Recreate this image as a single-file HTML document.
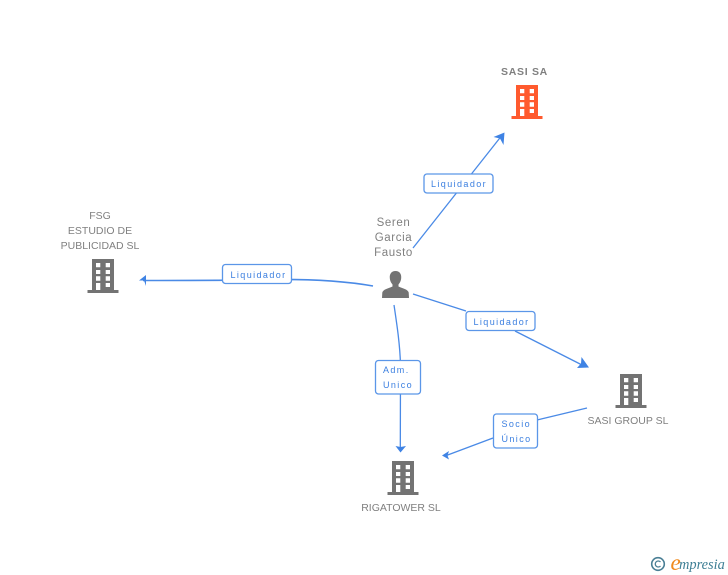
<!DOCTYPE html>
<html>
<head>
<meta charset="utf-8">
<style>
html,body{margin:0;padding:0;background:#fff;}
body{width:728px;height:575px;overflow:hidden;position:relative;}
svg{position:absolute;left:0;top:0;}
text{font-family:"Liberation Sans",sans-serif;}
.n{font-size:10.500px;fill:#808080;text-anchor:middle;}
.l{font-size:9px;fill:#3b7fe0;letter-spacing:1.400px;}
.b{fill:#fff;stroke:#5b96e8;stroke-width:1.300;}
.c{fill:none;stroke:#4a8ae6;stroke-width:1.300;}
.a{fill:#3f83e4;}
</style>
</head>
<body>
<svg width="728" height="575" viewBox="0 0 728 575">
<defs>
<g id="bld">
<path fill-rule="evenodd" d="M0 0H22V31H26.500V34H-4.500V31H0Z M4 4V8.300H8.300V4Z M13.700 4V8.300H18V4Z M4 11V15H8.300V11Z M13.700 11V15H18V11Z M4 17.300V21.700H8.300V17.300Z M13.700 17.300V21.700H18V17.300Z M13.700 24V28H18V24Z M4 24V31H8.300V24Z"/>
</g>
</defs>

<path class="c" d="M413 248L503 134"/>
<path class="a" d="M504.500 132.500L503.500 145L500 138.500L493.500 137Z"/>

<path class="c" style="stroke-width:1.600" d="M373 286C345 281 310 279 270 279.500C220 280.500 180 280.500 143 280.500"/>
<path class="a" d="M139 280.500L146 275V286L144 280.500Z"/>

<path class="c" d="M413 294L466 311"/>
<path class="c" d="M515 331L586 367"/>
<path class="a" d="M589 367.500L577 368L581 363.500L581.500 357Z"/>

<path class="c" d="M394 305C397 325 400 345 400.500 365L400.300 450"/>
<path class="a" d="M400.500 452.500L395.500 446L400.500 447L406 446Z"/>

<path class="c" d="M587 408L537 420"/>
<path class="c" d="M493 438L445 456"/>
<path class="a" d="M442 455.500L449 451L447.500 455.500L449 459.500Z"/>

<rect class="b" x="424" y="174" width="69" height="19" rx="3"/>
<text class="l" x="431" y="187">Liquidador</text>
<rect class="b" x="222.500" y="264.500" width="69" height="19" rx="3"/>
<text class="l" x="230.500" y="278">Liquidador</text>
<rect class="b" x="466" y="311.500" width="69" height="19" rx="3"/>
<text class="l" x="473.500" y="325">Liquidador</text>
<rect class="b" x="375.500" y="360.500" width="45" height="33.500" rx="3"/>
<text class="l" x="383" y="373">Adm.</text>
<text class="l" x="383" y="388">Unico</text>
<rect class="b" x="493.500" y="414" width="44" height="34" rx="3"/>
<text class="l" x="501.500" y="427">Socio</text>
<text class="l" x="501.500" y="442">Único</text>

<use href="#bld" x="516" y="85" fill="#ff5a2e"/>
<use href="#bld" x="92" y="259" fill="#737373"/>
<use href="#bld" x="392" y="461" fill="#737373"/>
<use href="#bld" x="620" y="374" fill="#737373"/>

<path fill="#737373" d="M395.500 271C391 271 389.500 274.500 389.800 278C390 281 391.300 283 392.500 284.500V286.500C388 288.500 383 289.500 382.300 292.500L382 298H409L408.700 292.500C408 289.500 403 288.500 398.500 286.500V284.500C399.700 283 401 281 401.200 278C401.500 274.500 400 271 395.500 271Z"/>

<text x="524.500" y="75" text-anchor="middle" font-size="10.500" font-weight="bold" fill="#808080" letter-spacing=".7">SASI SA</text>
<text class="n" x="100" y="219">FSG</text>
<text class="n" x="100" y="234">ESTUDIO DE</text>
<text class="n" x="100" y="249">PUBLICIDAD SL</text>
<text class="n" x="393.500" y="226" style="font-size:11.500px;letter-spacing:.6px">Seren</text>
<text class="n" x="393.500" y="241" style="font-size:11.500px;letter-spacing:.6px">Garcia</text>
<text class="n" x="393.500" y="256" style="font-size:11.500px;letter-spacing:.6px">Fausto</text>
<text class="n" x="628" y="424">SASI GROUP SL</text>
<text class="n" x="401" y="511">RIGATOWER SL</text>

<circle cx="658" cy="564" r="6.300" fill="none" stroke="#4a7f95" stroke-width="1.600"/>
<path d="M660.500 562A3 3 0 1 0 660.500 566" fill="none" stroke="#4a7f95" stroke-width="1.300"/>
<text x="670.500" y="570" font-size="23" font-style="italic" fill="#f08a1d" style="font-family:'Liberation Serif',serif">e</text>
<text x="679" y="569" font-size="14.400" font-style="italic" fill="#3f7f95" style="font-family:'Liberation Serif',serif">mpresia</text>
</svg>
</body>
</html>
